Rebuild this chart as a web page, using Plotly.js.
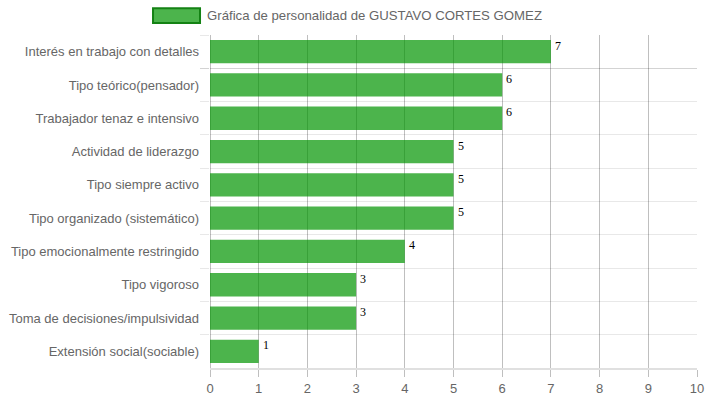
<!DOCTYPE html>
<html>
<head>
<meta charset="utf-8">
<script src="https://cdn.plot.ly/plotly-3.0.1.min.js"></script>
<style>html,body{margin:0;padding:0;background:#fff;}#chart{width:707px;height:398px;}</style>
</head>
<body>
<div id="chart"></div>
<script>
const categories = [
  "Interés en trabajo con detalles",
  "Tipo teórico(pensador)",
  "Trabajador tenaz e intensivo",
  "Actividad de liderazgo",
  "Tipo siempre activo",
  "Tipo organizado (sistemático)",
  "Tipo emocionalmente restringido",
  "Tipo vigoroso",
  "Toma de decisiones/impulsividad",
  "Extensión social(sociable)"
];
const values = [7, 6, 6, 5, 5, 5, 4, 3, 3, 1];
const seriesName = "Gráfica de personalidad de GUSTAVO CORTES GOMEZ";
const xTicks = [0, 1, 2, 3, 4, 5, 6, 7, 8, 9, 10];

const barFill = "rgba(0,148,0,0.7)";
const legendBorder = "rgb(20,130,20)";
const textFont = "Liberation Sans, Arial, sans-serif";

const trace = {
  type: "bar",
  orientation: "h",
  x: values,
  y: categories,
  width: 0.7,
  marker: {color: barFill, line: {width: 0}},
  name: seriesName,
  hoverinfo: "none"
};

const annotations = values.map((v, i) => ({
  x: v, y: categories[i], xref: "x", yref: "y",
  text: String(v), showarrow: false,
  xanchor: "left", yanchor: "middle", xshift: 2, yshift: 6,
  font: {family: "Liberation Serif, Times New Roman, serif", size: 12, color: "#000"}
}));
annotations.push({
  x: -0.0103, y: 1.0586, xref: "paper", yref: "paper",
  text: seriesName, showarrow: false, xanchor: "left", yanchor: "middle",
  font: {family: textFont, size: 13.2, color: "#666"}
});

const layout = {
  width: 707, height: 398,
  margin: {l: 210, r: 10, t: 35, b: 30},
  paper_bgcolor: "#fff", plot_bgcolor: "#fff",
  showlegend: false,
  bargap: 0.3,
  font: {family: textFont, size: 13, color: "#666"},
  xaxis: {
    range: [0, 10], tickvals: xTicks, ticktext: xTicks.map(String),
    showgrid: true, gridcolor: "rgba(0,0,0,0.25)", gridwidth: 1,
    zeroline: true, zerolinecolor: "rgba(0,0,0,0.25)", zerolinewidth: 1,
    ticks: "outside", ticklen: 7, tickcolor: "rgba(0,0,0,0.25)", tickwidth: 1,
    showline: true, linecolor: "rgba(0,0,0,0.12)", linewidth: 2,
    tickfont: {family: textFont, size: 13, color: "#666"}, fixedrange: true
  },
  yaxis: {
    type: "category", autorange: "reversed",
    tickson: "boundaries",
    showgrid: true, gridcolor: "rgba(0,0,0,0.09)", gridwidth: 1,
    ticks: "outside", ticklen: 9, tickcolor: "rgba(0,0,0,0.09)", tickwidth: 1,
    ticklabelstandoff: 10,
    showline: false, zeroline: false,
    tickfont: {family: textFont, size: 13, color: "#666"}, fixedrange: true
  },
  shapes: [{
    type: "rect", xref: "paper", yref: "paper",
    x0: -0.117, x1: -0.0205, y0: 1.036, y1: 1.080,
    fillcolor: barFill, line: {color: legendBorder, width: 2}
  }],
  annotations: annotations
};

Plotly.newPlot("chart", [trace], layout, {displayModeBar: false, staticPlot: true});
</script>
</body>
</html>
